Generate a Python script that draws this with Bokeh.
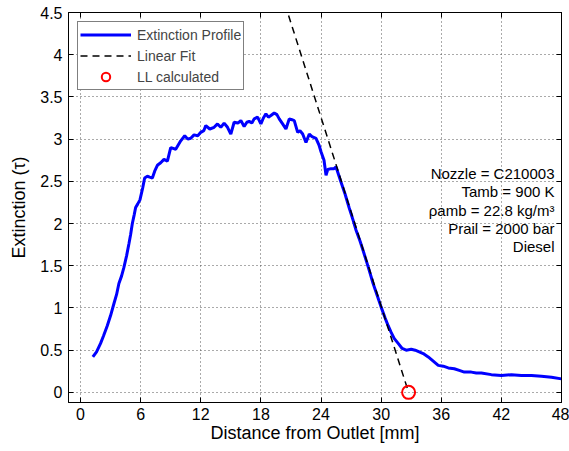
from bokeh.plotting import figure
from bokeh.models import (FixedTicker, LinearAxis, Range1d, Legend, LegendItem, Label)
from bokeh.embed import file_html
from bokeh.resources import INLINE

# ---------------- data ----------------
dist_mm = [1.23, 1.6, 2.0, 2.3, 2.67, 3.0, 3.33, 3.6, 3.83, 4.1, 4.33, 4.6, 4.83, 5.0,
           5.17, 5.35, 5.5, 5.7, 5.93, 6.2, 6.4, 6.67, 6.9, 7.17, 7.4, 7.67, 8.0, 8.33,
           8.67, 9.0, 9.25, 9.5, 9.75, 10.0, 10.4, 10.7, 11.0, 11.33, 11.7, 12.0, 12.3,
           12.5, 12.9, 13.33, 13.67, 14.0, 14.33, 14.67, 15.0, 15.33, 15.7, 16.0, 16.33,
           16.6, 16.83, 17.1, 17.33, 17.67, 18.0, 18.25, 18.5, 18.75, 19.0, 19.33, 19.6,
           19.83, 20.17, 20.5, 20.83, 21.1, 21.33, 21.67, 21.9, 22.17, 22.5, 22.83, 23.1,
           23.5, 23.8, 24.0, 24.3, 24.5, 24.67, 25.0, 25.3, 25.5, 26.0, 26.4, 26.8, 27.2,
           27.5, 27.9, 28.2, 28.7, 29.2, 29.6, 30.0, 30.4, 30.7, 31.0, 31.3, 31.7, 32.1,
           32.5, 33.0, 33.4, 33.8, 34.2, 34.7, 35.2, 35.7, 36.2, 36.7, 37.3, 37.8, 38.3,
           39.0, 39.5, 40.0, 41.0, 42.0, 43.0, 44.0, 45.0, 46.0, 47.0, 48.0]
extinction = [0.42, 0.48, 0.58, 0.67, 0.79, 0.91, 1.05, 1.16, 1.29, 1.38, 1.48, 1.62, 1.76, 1.87,
              2.0, 2.1, 2.19, 2.23, 2.28, 2.42, 2.54, 2.56, 2.55, 2.54, 2.62, 2.69, 2.72, 2.76,
              2.74, 2.9, 2.89, 2.88, 2.93, 2.98, 3.04, 3.0, 3.01, 3.05, 3.04, 3.08, 3.1,
              3.16, 3.12, 3.14, 3.18, 3.14, 3.19, 3.14, 3.06, 3.2, 3.19, 3.22, 3.15,
              3.2, 3.21, 3.19, 3.24, 3.26, 3.18, 3.25, 3.3, 3.26, 3.28, 3.31, 3.29,
              3.24, 3.18, 3.12, 3.24, 3.23, 3.22, 3.08, 3.1, 3.06, 2.96, 3.06, 3.03,
              3.01, 2.93, 2.85, 2.75, 2.57, 2.64, 2.65, 2.65, 2.67, 2.49, 2.35, 2.19, 2.04,
              1.92, 1.79, 1.68, 1.49, 1.29, 1.15, 1.01, 0.88, 0.79, 0.71, 0.64, 0.58, 0.52,
              0.5, 0.51, 0.5, 0.48, 0.46, 0.42, 0.37, 0.32, 0.31, 0.29, 0.28, 0.26, 0.24,
              0.24, 0.23, 0.23, 0.21, 0.2, 0.21, 0.2, 0.2, 0.19, 0.18, 0.16]

fit_x = [20.4, 32.74]
fit_y = [4.6, 0.0]

ll_x = [32.74]
ll_y = [0.0]

x_ticks = [0, 6, 12, 18, 24, 30, 36, 42, 48]
y_ticks = [0, 0.5, 1, 1.5, 2, 2.5, 3, 3.5, 4, 4.5]
y_tick_labels = ["0", "0.5", "1", "1.5", "2", "2.5", "3", "3.5", "4", "4.5"]

info_lines = ["Nozzle = C210003", "Tamb = 900 K", "\u03c1amb = 22.8 kg/m\u00b3",
              "Prail = 2000 bar", "Diesel"]
info_y = [2.59, 2.38, 2.16, 1.94, 1.73]

FONT = "Liberation Sans"

# ---------------- figure ----------------
p = figure(width=569, height=451, output_backend="svg", toolbar_location=None,
           x_range=Range1d(-1.2, 48), y_range=Range1d(-0.12, 4.5),
           min_border_left=68, min_border_right=8, min_border_top=12, min_border_bottom=49,
           background_fill_color="white", border_fill_color="white")
p.outline_line_color = "black"
p.outline_line_width = 1

xt = FixedTicker(ticks=x_ticks)
yt = FixedTicker(ticks=y_ticks)

p.xaxis.ticker = xt
p.yaxis.ticker = yt
p.yaxis.major_label_overrides = {v: s for v, s in zip(y_ticks, y_tick_labels)}
for ax in (p.xaxis[0], p.yaxis[0]):
    ax.major_tick_in = 5
    ax.major_tick_out = 0
    ax.minor_tick_line_color = None
    ax.axis_line_color = "black"
    ax.major_tick_line_color = "black"
    ax.major_label_text_font = FONT
    ax.major_label_text_font_size = "16px"
    ax.major_label_text_color = "black"
    ax.axis_label_text_font = FONT
    ax.axis_label_text_font_size = "18px"
    ax.axis_label_text_font_style = "normal"
    ax.axis_label_text_color = "black"
p.xaxis.axis_label = "Distance from Outlet [mm]"
p.yaxis.axis_label = "Extinction (\u03c4)"
p.xaxis.major_label_standoff = 5
p.xaxis.axis_label_standoff = 0
p.yaxis.major_label_standoff = 6
p.yaxis.axis_label_standoff = 8

# mirrored inward ticks (box)
for loc, tk in (("right", yt), ("above", xt)):
    ax = LinearAxis(ticker=tk, major_tick_in=5, major_tick_out=0,
                    minor_tick_line_color=None, major_label_text_font_size="0px",
                    major_label_text_color=None,
                    major_label_standoff=0, axis_line_color="black")
    p.add_layout(ax, loc)

p.xgrid.ticker = xt
p.ygrid.ticker = yt
for g in (p.xgrid[0], p.ygrid[0]):
    g.grid_line_color = "#555555"
    g.grid_line_dash = "1 3"
    g.grid_line_width = 1

r_prof = p.line(dist_mm, extinction, line_color="#0000ff", line_width=3)
r_fit = p.line(fit_x, fit_y, line_color="black", line_width=1.5, line_dash="7 5")
r_ll = p.scatter(ll_x, ll_y, marker="circle", size=13, fill_color=None,
                 line_color="#ff0000", line_width=2)

for txt, yy in zip(info_lines, info_y):
    p.add_layout(Label(x=47.3, y=yy, text=txt, text_align="right", text_baseline="middle",
                       text_font=FONT, text_font_size="15px", text_color="black"))

legend = Legend(items=[LegendItem(label="Extinction Profile", renderers=[r_prof]),
                       LegendItem(label="Linear Fit", renderers=[r_fit]),
                       LegendItem(label="LL calculated", renderers=[r_ll])],
                location="top_left")
legend.margin = 9
legend.padding = 2
legend.spacing = 0
legend.label_height = 21
legend.glyph_height = 21
legend.glyph_width = 51
legend.label_standoff = 6
legend.border_line_color = "black"
legend.border_line_width = 1
legend.label_text_font = FONT
legend.label_text_font_size = "14px"
legend.background_fill_alpha = 1
p.add_layout(legend)

open("out.html", "w").write(file_html(p, INLINE))
